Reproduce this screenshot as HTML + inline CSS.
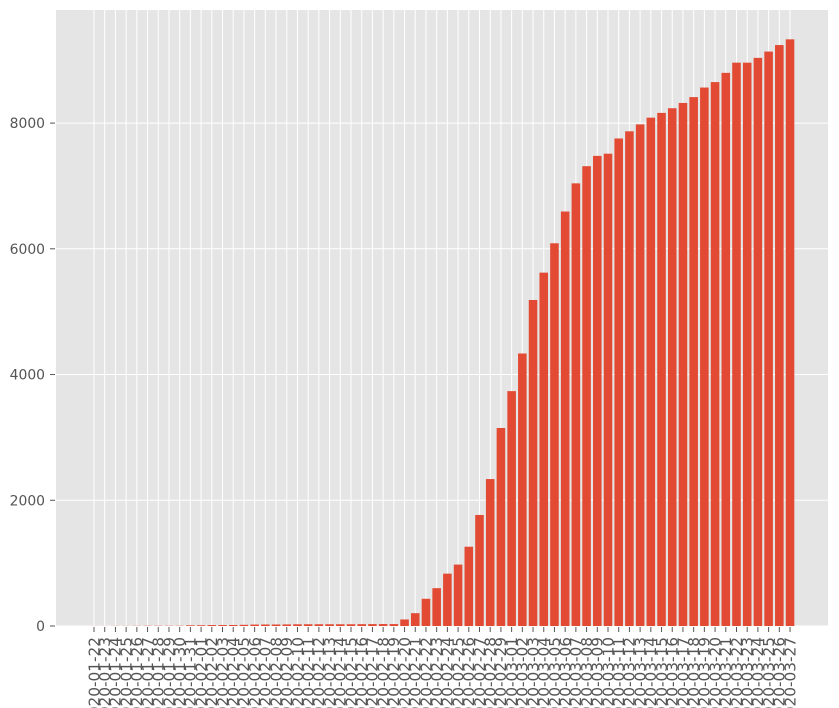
<!DOCTYPE html>
<html><head><meta charset="utf-8"><style>
body{margin:0;background:#fff;}
svg{display:block;font-family:"DejaVu Sans","Liberation Sans",sans-serif;}
</style></head><body>
<svg id="chart" width="839" height="708" viewBox="0 0 839 708"></svg>
<script>
const categories=["2020-01-22","2020-01-23","2020-01-24","2020-01-25","2020-01-26","2020-01-27","2020-01-28","2020-01-29","2020-01-30","2020-01-31","2020-02-01","2020-02-02","2020-02-03","2020-02-04","2020-02-05","2020-02-06","2020-02-07","2020-02-08","2020-02-09","2020-02-10","2020-02-11","2020-02-12","2020-02-13","2020-02-14","2020-02-15","2020-02-16","2020-02-17","2020-02-18","2020-02-19","2020-02-20","2020-02-21","2020-02-22","2020-02-23","2020-02-24","2020-02-25","2020-02-26","2020-02-27","2020-02-28","2020-02-29","2020-03-01","2020-03-02","2020-03-03","2020-03-04","2020-03-05","2020-03-06","2020-03-07","2020-03-08","2020-03-09","2020-03-10","2020-03-11","2020-03-12","2020-03-13","2020-03-14","2020-03-15","2020-03-16","2020-03-17","2020-03-18","2020-03-19","2020-03-20","2020-03-21","2020-03-22","2020-03-23","2020-03-24","2020-03-25","2020-03-26","2020-03-27"];
const values=[1,1,2,2,3,4,4,4,4,11,12,15,15,16,19,23,24,24,25,27,28,28,28,28,28,29,30,31,31,104,204,433,602,833,977,1261,1766,2337,3150,3736,4335,5186,5621,6088,6593,7041,7314,7478,7513,7755,7869,7979,8086,8162,8236,8320,8413,8565,8652,8799,8961,8961,9037,9137,9241,9332];
const yTicks=[0,2000,4000,6000,8000];
const NS="http://www.w3.org/2000/svg";
const svg=document.getElementById('chart');
const L=56,R=828,T=10,B=626;
const n=categories.length;
const xmin=-0.4-0.05*(n-1+0.8);
const k=10.708;
const ymax=Math.max(...values)*1.05;
const x=i=>54.5+(i-xmin)*k;
const y=v=>B-v/ymax*(B-T);
function mk(t,a){const e=document.createElementNS(NS,t);for(const kk in a)e.setAttribute(kk,a[kk]);svg.appendChild(e);return e;}
const bg=mk('rect',{x:L,y:T,width:R-L,height:B-T,fill:'#E5E5E5'});


yTicks.forEach(v=>{
  const g=mk('line',{x1:L,x2:R,y1:y(v),y2:y(v),stroke:'#fff','stroke-width':1});
  
  
  const tk=mk('line',{x1:L-6,x2:L-1,y1:y(v),y2:y(v),stroke:'#555','stroke-width':1});
  
  
  const t=mk('text',{x:45,y:y(v)+5,'text-anchor':'end','font-size':13.9,fill:'#555'});
  t.textContent=v;
  
  
});
categories.forEach((c,i)=>{
  const g=mk('line',{x1:x(i),x2:x(i),y1:T,y2:B,stroke:'#fff','stroke-width':1});
  
  
});
categories.forEach((c,i)=>{
  const w=x(0.4)-x(-0.4);
  const b=mk('rect',{x:x(i)-w/2,y:y(values[i]),width:w,height:B-y(values[i]),fill:'#E24A33'});
  
  
  const tk=mk('line',{x1:x(i),x2:x(i),y1:B+1,y2:B+6,stroke:'#555','stroke-width':1});
  
  
  const tx=x(i)+5.3,ty=637;
  const t=mk('text',{x:tx,y:ty,'text-anchor':'end','font-size':15.3,fill:'#555',transform:`rotate(-90 ${tx} ${ty})`});
  t.textContent=c;
  
  
});
</script>
</body></html>
